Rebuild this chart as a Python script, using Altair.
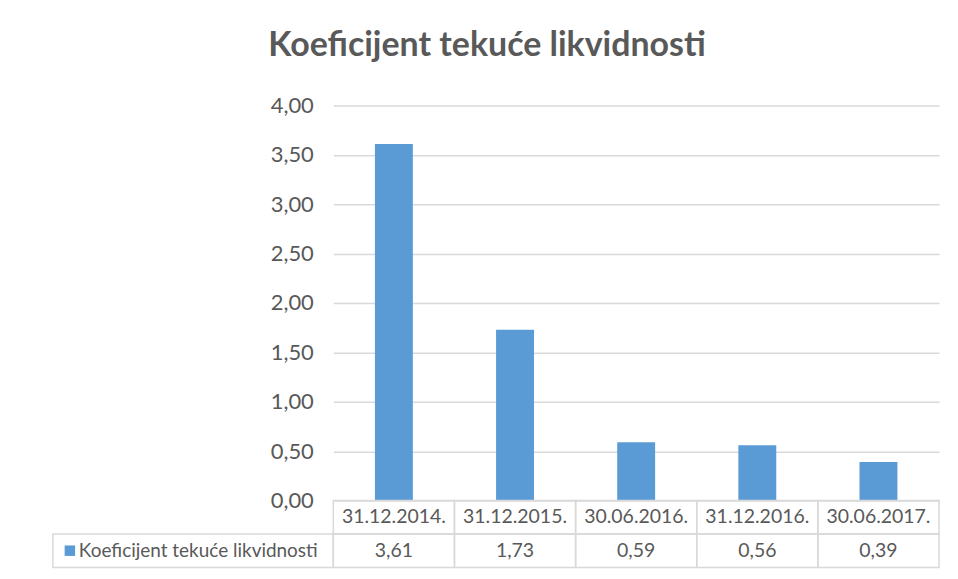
import altair as alt
import pandas as pd

# ---- data ----
dates = ["31.12.2014.", "31.12.2015.", "30.06.2016.", "31.12.2016.", "30.06.2017."]
values = [3.61, 1.73, 0.59, 0.56, 0.39]
series_name = "Koeficijent tekuće likvidnosti"
y_ticks = [0, 0.5, 1, 1.5, 2, 2.5, 3, 3.5, 4]
title_text = "Koeficijent tekuće likvidnosti"

df = pd.DataFrame({"date": dates, "value": values, "series": series_name})

FONT = "Lato"
GRAY = "#595959"
LINE = "#d9d9d9"
BLUE = "#5b9bd5"
COMMA = "replace(format(datum.value, '.2f'), '.', ',')"

x_enc = alt.X("date:N", sort=dates,
              scale=alt.Scale(paddingInner=0, paddingOuter=0), axis=None)

bars = alt.Chart(df).mark_bar(size=38, color=BLUE).encode(
    x=x_enc,
    y=alt.Y("value:Q", scale=alt.Scale(domain=[0, 4], nice=False),
            axis=alt.Axis(values=y_ticks, labelExpr=COMMA, title=None,
                          domain=False, ticks=False, grid=True,
                          gridColor=LINE, gridWidth=1.5,
                          labelColor=GRAY, labelFontSize=22, labelFont=FONT,
                          labelPadding=20)),
).properties(width=607, height=396)

y_row = alt.Y("row:N", scale=alt.Scale(domain=["h", "v"], paddingInner=0, paddingOuter=0),
              axis=None)

base = alt.Chart(df)
hdr = base.transform_calculate(row="'h'")
val = base.transform_calculate(row="'v'", txt=COMMA)

cells_h = hdr.mark_rect(fillOpacity=0, stroke=LINE, strokeWidth=1.5).encode(x=x_enc, y=y_row)
cells_v = val.mark_rect(fillOpacity=0, stroke=LINE, strokeWidth=1.5).encode(x=x_enc, y=y_row)
text_h = hdr.mark_text(font=FONT, fontSize=19.5, color=GRAY).encode(x=x_enc, y=y_row, text="date:N")
text_v = val.mark_text(font=FONT, fontSize=19.5, color=GRAY).encode(x=x_enc, y=y_row, text="txt:N")

lab = val.transform_aggregate(n="count()", groupby=["row", "series"])
label_cell = lab.mark_rect(fillOpacity=0, stroke=LINE, strokeWidth=1.5).encode(
    x=alt.value(-281), x2=alt.value(0), y=y_row)
label_sq = lab.mark_square(size=110, color=BLUE, opacity=1).encode(
    x=alt.value(-264), y=y_row)
label_txt = lab.mark_text(font=FONT, fontSize=19, color=GRAY, align="left").encode(
    x=alt.value(-255), y=y_row, text="series:N")

table = alt.layer(cells_h, cells_v, text_h, text_v, label_cell, label_sq, label_txt).properties(
    width=607, height=67)

chart = alt.vconcat(bars, table, spacing=0, bounds="flush").properties(
    title=alt.Title(title_text, font=FONT, fontSize=34, fontWeight="bold",
                    color=GRAY, anchor="middle", offset=31, dx=-9),
    padding={"left": 44, "top": 21, "right": 10, "bottom": 2},
).configure_view(stroke=None)

chart.save("out.html", embed_options={"renderer": "svg", "actions": False})
